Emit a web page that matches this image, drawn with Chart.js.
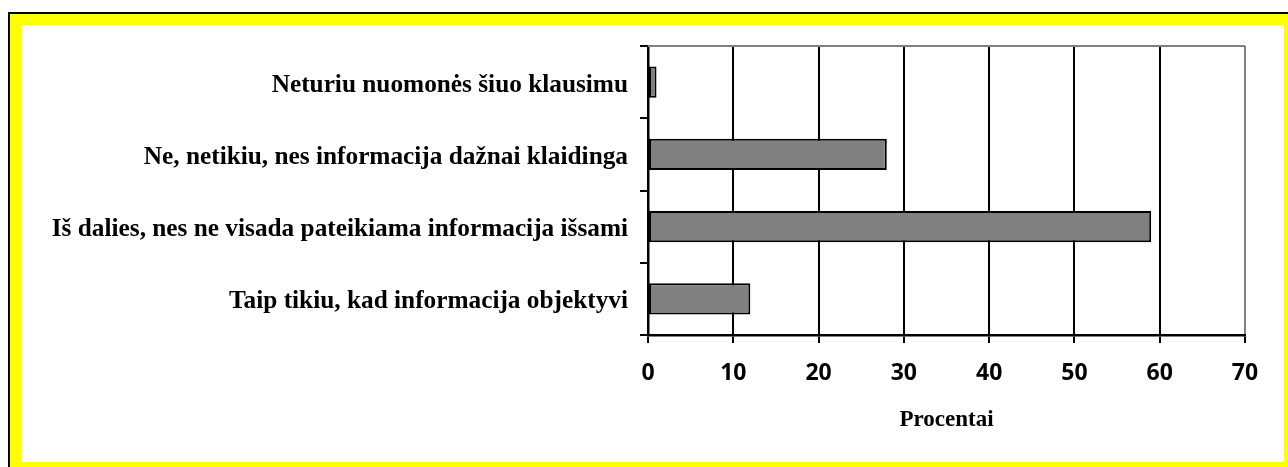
<!DOCTYPE html>
<html lang="lt">
<head>
  <meta charset="UTF-8">
  <title>Procentai</title>
  <script src="https://cdn.jsdelivr.net/npm/chart.js"></script>
  <style>
    html, body {
      margin: 0;
      padding: 0;
      background: #fff;
      overflow: hidden;
      width: 1288px;
      height: 467px;
    }

    .frame {
      position: absolute;
      left: 10px;
      top: 14px;
      width: 1263px;
      height: 437px;
      border: 11px solid #ffff00;
      box-shadow: -2px -2px 0 #000;
      background: #fff;
    }

    .chart-box {
      position: relative;
      width: 1263px;
      height: 437px;
    }
  </style>
</head>
<body>
  <div class="frame">
    <div class="chart-box">
      <canvas id="barChart"></canvas>
    </div>
  </div>

  <script>
    // answers, top to bottom
    const categories = [
      'Neturiu nuomonės šiuo klausimu',
      'Ne, netikiu, nes informacija dažnai klaidinga',
      'Iš dalies, nes ne visada pateikiama informacija išsami',
      'Taip tikiu, kad informacija objektyvi'
    ];
    const percents = [1, 28, 59, 12];
    const xTicks = [0, 10, 20, 30, 40, 50, 60, 70];
    const xTitle = 'Procentai';

    // grey top edge of the plot area
    const topEdge = {
      id: 'topEdge',
      afterDraw(chart) {
        const { ctx, chartArea } = chart;
        ctx.save();
        ctx.strokeStyle = '#808080';
        ctx.lineWidth = 2;
        ctx.beginPath();
        ctx.moveTo(chartArea.left, chartArea.top);
        ctx.lineTo(chartArea.right, chartArea.top);
        ctx.stroke();
        ctx.restore();
      }
    };

    const ctx = document.getElementById('barChart').getContext('2d');
    new Chart(ctx, {
      type: 'bar',
      data: {
        labels: categories,
        datasets: [{
          data: percents,
          backgroundColor: '#808080',
          borderColor: '#000',
          borderWidth: 2,
          borderSkipped: false,
          barPercentage: 0.43,
          categoryPercentage: 1
        }]
      },
      options: {
        indexAxis: 'y',
        responsive: true,
        maintainAspectRatio: false,
        animation: false,
        layout: { padding: { top: 21, right: 39, left: 0, bottom: 0 } },
        plugins: {
          legend: { display: false },
          tooltip: { enabled: false }
        },
        scales: {
          x: {
            min: xTicks[0],
            max: xTicks[xTicks.length - 1],
            afterBuildTicks: (scale) => {
              scale.ticks = xTicks.map(v => ({ value: v }));
            },
            afterFit: (scale) => { scale.height = 127; },
            border: { color: '#000', width: 2.5 },
            grid: {
              color: (c) => (c.tick && c.tick.value === 70 ? '#808080' : '#000'),
              tickColor: '#000',
              lineWidth: 2,
              tickLength: 8
            },
            ticks: {
              color: '#000',
              padding: 17,
              font: { family: "'Open Sans', sans-serif", size: 23, weight: 'bold' }
            },
            title: {
              display: true,
              text: xTitle,
              color: '#000',
              padding: { top: 0, bottom: 28 },
              font: { family: "'Liberation Serif', 'Times New Roman', serif", size: 23, weight: 'bold' }
            }
          },
          y: {
            afterFit: (scale) => {
              scale.width = 627;
              scale.paddingTop = 0;
              scale.paddingBottom = 0;
            },
            border: { color: '#000', width: 2.5 },
            grid: {
              drawOnChartArea: false,
              color: '#000',
              tickColor: '#000',
              lineWidth: 2,
              tickLength: 8
            },
            ticks: {
              color: '#000',
              padding: 12,
              labelOffset: 3,
              font: { family: "'Liberation Serif', 'Times New Roman', serif", size: 25.3, weight: 'bold' }
            }
          }
        }
      },
      plugins: [topEdge]
    });
  </script>
</body>
</html>
